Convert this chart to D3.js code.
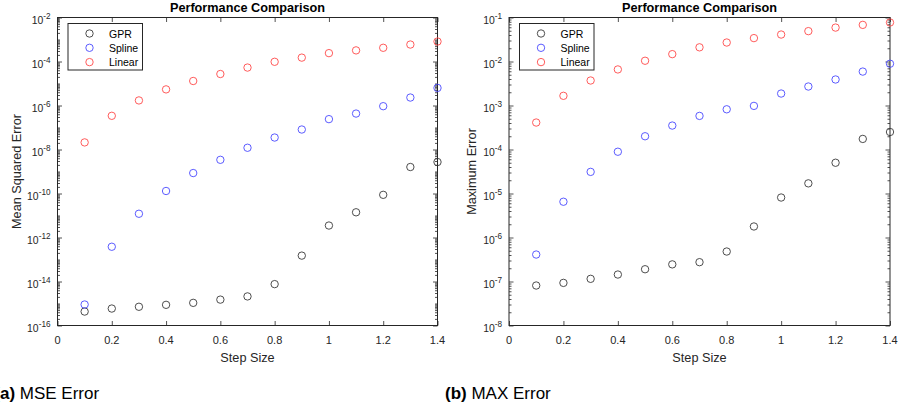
<!DOCTYPE html>
<html>
<head>
<meta charset="utf-8">
<script src="https://cdn.jsdelivr.net/npm/d3@7"></script>
<style>
  html, body { margin: 0; padding: 0; background: #fff; }
  svg { display: block; font-family: "Liberation Sans", Arial, Helvetica, sans-serif; }
</style>
</head>
<body>
<svg id="chart" width="899" height="410"></svg>
<script>
// Step sizes shared by both panels
const steps = [0.1, 0.2, 0.3, 0.4, 0.5, 0.6, 0.7, 0.8, 0.9, 1.0, 1.1, 1.2, 1.3, 1.4];

// Mean squared error per method
const mseGPR    = [4.3e-16, 5.9e-16, 7.1e-16, 8.7e-16, 1.07e-15, 1.5e-15, 2.1e-15, 7.6e-15, 1.5e-13, 3.5e-12, 1.4e-11, 8.7e-11, 1.6e-9, 2.7e-9];
const mseSpline = [9.0e-16, 3.8e-13, 1.2e-11, 1.3e-10, 8.5e-10, 3.4e-9, 1.2e-8, 3.5e-8, 8.1e-8, 2.4e-7, 4.3e-7, 9.3e-7, 2.3e-6, 6.3e-6];
const mseLinear = [2.1e-8, 3.4e-7, 1.7e-6, 5.4e-6, 1.3e-5, 2.7e-5, 5.3e-5, 9.7e-5, 1.5e-4, 2.4e-4, 3.2e-4, 4.2e-4, 5.9e-4, 8.1e-4];

// Maximum error per method
const maxGPR    = [8.1e-8, 9.3e-8, 1.15e-7, 1.44e-7, 1.9e-7, 2.45e-7, 2.75e-7, 4.8e-7, 1.78e-6, 8.1e-6, 1.7e-5, 5.0e-5, 1.74e-4, 2.5e-4];
const maxSpline = [4.1e-7, 6.5e-6, 3.1e-5, 8.9e-5, 2.0e-4, 3.5e-4, 5.8e-4, 8.2e-4, 9.8e-4, 1.87e-3, 2.7e-3, 3.9e-3, 5.9e-3, 8.9e-3];
const maxLinear = [4.1e-4, 1.66e-3, 3.7e-3, 6.6e-3, 1.04e-2, 1.47e-2, 2.1e-2, 2.7e-2, 3.4e-2, 4.1e-2, 4.9e-2, 5.9e-2, 6.8e-2, 7.7e-2];

const methodNames = ["GPR", "Spline", "Linear"];
const methodColors = ["#3a3a3a", "#4a4aff", "#ff4a4a"];

const xTicks = [0, 0.2, 0.4, 0.6, 0.8, 1, 1.2, 1.4];
const mseExponents = [-16, -14, -12, -10, -8, -6, -4, -2];
const maxExponents = [-8, -7, -6, -5, -4, -3, -2, -1];

const panels = [
  { left: 57.5, right: 437.5, yDomain: [1e-16, 1e-2], labels: mseExponents,
    yLabel: "Mean Squared Error", yLabelX: 17, series: [mseGPR, mseSpline, mseLinear],
    capX: -5.7, capTag: "(a)", capText: " MSE Error" },
  { left: 509, right: 890, yDomain: [1e-8, 1e-1], labels: maxExponents,
    yLabel: "Maximum Error", yLabelX: 472, series: [maxGPR, maxSpline, maxLinear],
    capX: 445, capTag: "(b)", capText: " MAX Error" }
];

const plotTop = 17.5, plotBottom = 325.5;
const axisColor = "#262626";
const svg = d3.select("#chart");

panels.forEach(p => {
  const x = d3.scaleLinear().domain([0, 1.4]).range([p.left, p.right]);
  const y = d3.scaleLog().domain(p.yDomain).range([plotBottom, plotTop]);
  const g = svg.append("g");

  // minor log ticks (2..9 per decade) on left and right edges, pointing inward
  const lo = Math.round(Math.log10(p.yDomain[0])), hi = Math.round(Math.log10(p.yDomain[1]));
  const minor = [];
  for (let e = lo; e < hi; e++) {
    for (let k = 2; k <= 9; k++) minor.push(k * Math.pow(10, e));
  }
  // decades without a label get a short tick as well
  for (let e = lo; e <= hi; e++) if (!p.labels.includes(e)) minor.push(Math.pow(10, e));

  g.append("g").attr("transform", `translate(${p.left},0)`)
    .call(d3.axisRight(y).tickValues(minor).tickSize(2.5).tickFormat(""))
    .call(a => a.select(".domain").remove());
  g.append("g").attr("transform", `translate(${p.right},0)`)
    .call(d3.axisLeft(y).tickValues(minor).tickSize(2.5).tickFormat(""))
    .call(a => a.select(".domain").remove());

  // major y ticks
  const majors = p.labels.map(e => Math.pow(10, e));
  g.append("g").attr("transform", `translate(${p.left},0)`)
    .call(d3.axisRight(y).tickValues(majors).tickSize(4.5).tickFormat(""))
    .call(a => a.select(".domain").remove());
  g.append("g").attr("transform", `translate(${p.right},0)`)
    .call(d3.axisLeft(y).tickValues(majors).tickSize(4.5).tickFormat(""))
    .call(a => a.select(".domain").remove());

  // x ticks on bottom and top, pointing inward
  g.append("g").attr("transform", `translate(0,${plotBottom})`)
    .call(d3.axisTop(x).tickValues(xTicks).tickSize(4.5).tickFormat(""))
    .call(a => a.select(".domain").remove());
  g.append("g").attr("transform", `translate(0,${plotTop})`)
    .call(d3.axisBottom(x).tickValues(xTicks).tickSize(4.5).tickFormat(""))
    .call(a => a.select(".domain").remove());

  g.selectAll(".tick line").attr("stroke", axisColor).attr("stroke-width", 0.8);

  // box
  g.append("rect")
    .attr("x", p.left).attr("y", plotTop)
    .attr("width", p.right - p.left).attr("height", plotBottom - plotTop)
    .attr("fill", "none").attr("stroke", axisColor).attr("stroke-width", 1);

  // x tick labels
  g.selectAll(".xl").data(xTicks).join("text")
    .attr("x", d => x(d)).attr("y", plotBottom + 18)
    .attr("text-anchor", "middle").attr("font-size", 11).attr("fill", axisColor)
    .text(d => d3.format("~g")(d));

  // y tick labels 10^e
  const yl = g.selectAll(".yl").data(p.labels).join("text")
    .attr("x", p.left - 7).attr("y", d => y(Math.pow(10, d)) + 6.8)
    .attr("text-anchor", "end").attr("font-size", 10.4).attr("fill", axisColor);
  yl.append("tspan").text("10");
  yl.append("tspan").attr("dy", -5.5).attr("font-size", 8.2).text(d => String(d));

  // axis titles
  g.append("text")
    .attr("x", (p.left + p.right) / 2).attr("y", 361.5)
    .attr("text-anchor", "middle").attr("font-size", 12.7).attr("fill", axisColor)
    .text("Step Size");
  g.append("text")
    .attr("transform", `translate(${p.yLabelX},${(plotTop + plotBottom) / 2}) rotate(-90)`)
    .attr("text-anchor", "middle").attr("dy", "0.35em").attr("font-size", 12.7).attr("fill", axisColor)
    .text(p.yLabel);
  g.append("text")
    .attr("x", (p.left + p.right) / 2).attr("y", 12)
    .attr("text-anchor", "middle").attr("font-size", 12.7).attr("font-weight", "bold").attr("fill", "#000")
    .text("Performance Comparison");

  // data markers
  p.series.forEach((vals, i) => {
    g.append("g").selectAll("circle").data(vals).join("circle")
      .attr("cx", (d, j) => x(steps[j])).attr("cy", d => y(d)).attr("r", 3.7)
      .attr("fill", "none").attr("stroke", methodColors[i]).attr("stroke-width", 0.9);
  });

  // legend
  const lx = p.left + 10.5, ly = 23.5;
  const lg = g.append("g");
  lg.append("rect").attr("x", lx).attr("y", ly).attr("width", 74.5).attr("height", 46.5)
    .attr("fill", "#fff").attr("stroke", axisColor).attr("stroke-width", 1);
  methodNames.forEach((name, i) => {
    const cy = ly + 10 + i * 14.3;
    lg.append("circle").attr("cx", lx + 21.5).attr("cy", cy).attr("r", 3.7)
      .attr("fill", "none").attr("stroke", methodColors[i]).attr("stroke-width", 0.9);
    lg.append("text").attr("x", lx + 41).attr("y", cy + 4)
      .attr("font-size", 10.5).attr("fill", "#000").text(name);
  });

  // panel caption
  const cap = svg.append("text").attr("x", p.capX).attr("y", 399)
    .attr("font-size", 17).attr("fill", "#000");
  cap.append("tspan").attr("font-weight", "bold").text(p.capTag);
  cap.append("tspan").text(p.capText);
});
</script>
</body>
</html>
